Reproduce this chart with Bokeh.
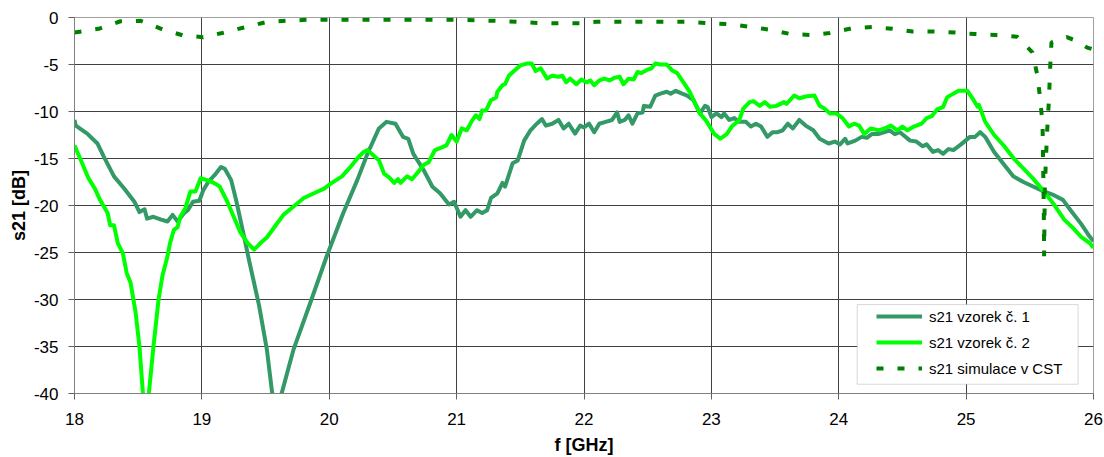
from bokeh.plotting import figure
from bokeh.models import Range1d, FixedTicker, Legend, LegendItem, BoxAnnotation
from bokeh.embed import file_html
from bokeh.resources import INLINE

# ---------------- data ----------------
f1 = [18.00, 18.01, 18.10, 18.18, 18.23, 18.31, 18.39, 18.47, 18.51, 18.55, 18.57, 18.62, 18.68, 18.73,
      18.77, 18.81, 18.86, 18.89, 18.93, 18.98, 19.01, 19.05, 19.11, 19.15, 19.18, 19.23, 19.27, 19.32,
      19.37, 19.45, 19.51, 19.555, 19.59, 19.62, 19.72, 19.85, 19.98, 20.11, 20.22, 20.30, 20.39, 20.45,
      20.52, 20.58, 20.62, 20.66, 20.74, 20.81, 20.87, 20.94, 20.98, 21.03, 21.07, 21.11, 21.16, 21.20,
      21.24, 21.27, 21.32, 21.36, 21.38, 21.44, 21.48, 21.53, 21.58, 21.63, 21.67, 21.70, 21.75, 21.80,
      21.84, 21.88, 21.93, 21.97, 22.00, 22.04, 22.08, 22.12, 22.17, 22.22, 22.26, 22.28, 22.32, 22.35,
      22.38, 22.42, 22.46, 22.47, 22.52, 22.56, 22.60, 22.65, 22.68, 22.72, 22.77, 22.81, 22.86, 22.91,
      22.95, 22.97, 23.00, 23.04, 23.08, 23.10, 23.14, 23.18, 23.22, 23.27, 23.31, 23.35, 23.39, 23.44,
      23.48, 23.52, 23.56, 23.60, 23.64, 23.69, 23.74, 23.80, 23.85, 23.92, 23.97, 24.01, 24.05, 24.07,
      24.13, 24.18, 24.22, 24.26, 24.31, 24.36, 24.40, 24.44, 24.48, 24.56, 24.61, 24.66, 24.69, 24.74,
      24.78, 24.82, 24.86, 24.90, 24.96, 25.03, 25.07, 25.11, 25.15, 25.22, 25.30, 25.37, 25.45, 25.53,
      25.61, 25.69, 25.76, 25.82, 25.90, 25.97, 26.00]
s1 = [-10.9, -11.5, -12.35, -13.4, -14.8, -16.9, -18.2, -19.6, -20.7, -20.4, -21.4, -21.2, -21.5, -21.7,
      -21.0, -21.7, -20.8, -20.5, -19.6, -19.5, -18.4, -17.5, -16.6, -15.9, -16.1, -17.3, -19.5, -22.6,
      -25.8, -30.7, -35.3, -40.3, -41.5, -40.3, -35.3, -30.4, -25.4, -20.8, -17.3, -14.5, -11.8, -11.1,
      -11.3, -12.7, -12.9, -14.5, -16.2, -18.0, -18.7, -19.9, -19.6, -21.2, -20.5, -21.2, -20.5, -20.8,
      -20.5, -19.2, -18.7, -17.6, -18.0, -15.5, -15.2, -13.1, -12.0, -11.3, -10.8, -11.5, -11.3, -10.9,
      -11.8, -11.3, -12.35, -11.5, -11.7, -11.3, -12.2, -11.3, -11.1, -10.9, -10.1, -11.1, -10.9, -10.4,
      -11.3, -10.2, -10.1, -9.4, -9.5, -8.3, -8.1, -7.9, -8.1, -7.8, -8.1, -8.3, -8.8, -10.2,
      -9.4, -9.5, -10.6, -10.2, -10.6, -10.2, -10.9, -10.7, -11.1, -11.1, -11.6, -11.3, -11.6, -12.7,
      -12.2, -12.2, -12.0, -11.3, -11.8, -10.9, -11.5, -12.0, -12.9, -13.4, -13.2, -13.5, -12.9, -13.4,
      -13.1, -12.7, -12.8, -12.4, -12.4, -12.2, -12.0, -12.4, -12.2, -13.1, -13.2, -13.7, -13.5, -14.3,
      -14.1, -14.5, -14.0, -14.1, -13.5, -12.7, -12.7, -12.2, -12.7, -14.3, -15.7, -16.9, -17.5, -18.0,
      -18.5, -18.9, -19.4, -20.5, -21.9, -23.3, -23.8]

f2 = [18.00, 18.06, 18.11, 18.16, 18.20, 18.26, 18.28, 18.31, 18.34, 18.38, 18.41, 18.44, 18.48, 18.51,
      18.54, 18.56, 18.58, 18.62, 18.66, 18.69, 18.73, 18.75, 18.78, 18.81, 18.83, 18.87, 18.91, 18.95,
      18.99, 19.04, 19.08, 19.12, 19.14, 19.20, 19.25, 19.30, 19.36, 19.41, 19.46, 19.51, 19.58, 19.64,
      19.72, 19.80, 19.88, 19.96, 20.02, 20.10, 20.16, 20.22, 20.27, 20.30, 20.35, 20.39, 20.43, 20.47,
      20.51, 20.54, 20.56, 20.61, 20.65, 20.70, 20.74, 20.78, 20.83, 20.87, 20.92, 20.96, 21.00, 21.04,
      21.08, 21.12, 21.15, 21.18, 21.20, 21.23, 21.27, 21.31, 21.32, 21.36, 21.38, 21.41, 21.45, 21.50,
      21.55, 21.59, 21.62, 21.66, 21.71, 21.75, 21.80, 21.83, 21.86, 21.89, 21.94, 21.98, 22.02, 22.05,
      22.08, 22.12, 22.16, 22.20, 22.24, 22.28, 22.31, 22.35, 22.39, 22.42, 22.45, 22.49, 22.53, 22.56,
      22.60, 22.65, 22.69, 22.73, 22.79, 22.83, 22.86, 22.91, 22.96, 23.02, 23.07, 23.12, 23.16, 23.22,
      23.25, 23.30, 23.33, 23.38, 23.42, 23.46, 23.51, 23.57, 23.59, 23.65, 23.69, 23.74, 23.81, 23.85,
      23.89, 23.93, 23.98, 24.03, 24.08, 24.12, 24.16, 24.20, 24.25, 24.31, 24.36, 24.41, 24.46, 24.50,
      24.54, 24.59, 24.65, 24.69, 24.73, 24.77, 24.82, 24.85, 24.90, 24.94, 25.01, 25.05, 25.09, 25.10,
      25.15, 25.22, 25.30, 25.38, 25.46, 25.53, 25.61, 25.69, 25.77, 25.84, 25.90, 25.97, 26.00]
s2 = [-13.6, -15.5, -17.1, -18.2, -19.4, -20.8, -22.1, -22.1, -24.0, -25.1, -27.2, -28.2, -31.4, -35.0,
      -40.5, -42.0, -40.5, -35.0, -30.0, -27.5, -25.4, -24.0, -22.6, -22.3, -21.2, -20.3, -18.5, -18.5,
      -17.1, -17.3, -17.5, -17.8, -18.0, -19.6, -21.2, -22.8, -24.0, -24.7, -24.0, -23.4, -22.1, -21.0,
      -20.1, -19.2, -18.7, -18.2, -17.6, -16.9, -16.0, -15.0, -14.3, -14.1, -14.7, -15.2, -16.6, -17.0,
      -17.6, -17.2, -17.6, -16.9, -17.2, -16.4, -15.7, -15.4, -14.1, -13.9, -13.6, -12.5, -13.2, -11.8,
      -12.0, -11.0, -10.4, -10.8, -9.9, -9.9, -8.8, -8.5, -7.9, -7.2, -7.1, -6.2, -5.7, -5.1,
      -4.9, -4.9, -5.7, -5.4, -6.5, -6.2, -6.3, -6.2, -6.9, -6.5, -7.1, -6.6, -6.9, -6.7,
      -7.2, -6.7, -6.5, -6.7, -6.4, -6.3, -7.1, -6.5, -6.6, -5.8, -5.9, -5.6, -5.4, -4.9,
      -5.0, -5.0, -5.6, -5.9, -7.1, -7.9, -8.8, -10.2, -11.0, -12.35, -12.9, -12.4, -11.6, -10.9,
      -9.7, -9.0, -8.9, -9.4, -9.0, -9.5, -9.4, -9.0, -9.2, -8.3, -8.6, -8.4, -8.3, -9.4,
      -9.7, -10.2, -10.2, -10.7, -11.6, -11.3, -11.5, -12.4, -11.8, -12.0, -11.8, -11.5, -12.0, -11.6,
      -12.0, -11.6, -11.3, -10.7, -10.5, -9.8, -9.5, -8.5, -8.1, -7.8, -7.8, -8.6, -9.5, -9.3,
      -11.1, -12.5, -13.7, -15.1, -16.2, -17.2, -18.5, -19.9, -21.5, -22.4, -23.3, -24.0, -24.5]

f3 = [18.00, 18.19, 18.36, 18.52, 18.68, 18.85, 19.01, 19.16, 19.33, 19.50, 19.66, 19.82, 20.00, 20.50,
      21.00, 21.15, 21.30, 21.48, 21.65, 21.80, 21.97, 22.10, 22.30, 22.63, 22.80, 22.97, 23.14, 23.31,
      23.46, 23.62, 23.78, 23.93, 24.10, 24.26, 24.42, 24.58, 24.75, 24.91, 25.07, 25.23, 25.40, 25.52,
      25.56, 25.58, 25.60, 25.605, 25.61, 25.612, 25.618, 25.635, 25.65, 25.66, 25.67, 25.79, 25.85,
      25.95, 26.00]
s3 = [-1.6, -1.2, -0.4, -0.35, -1.2, -1.9, -2.1, -1.65, -1.06, -0.5, -0.35, -0.25, -0.25, -0.25,
      -0.25, -0.3, -0.35, -0.45, -0.6, -0.6, -0.6, -0.45, -0.45, -0.45, -0.45, -0.6, -0.7, -1.0,
      -1.3, -1.76, -1.86, -1.65, -1.16, -1.0, -1.2, -1.5, -1.5, -1.6, -1.76, -1.86, -2.05, -3.7,
      -6.2, -8.5, -11.3, -15.9, -20.8, -25.4, -18.0, -12.35, -8.8, -5.3, -2.65, -2.1, -2.4,
      -3.2, -3.4]

labels = ["s21 vzorek č. 1", "s21 vzorek č. 2", "s21 simulace v CST"]
x_ticks = [18, 19, 20, 21, 22, 23, 24, 25, 26]
y_ticks = [0, -5, -10, -15, -20, -25, -30, -35, -40]

FONT = "Liberation Sans"

p = figure(width=1104, height=457, x_range=Range1d(18, 26), y_range=Range1d(-40, 0),
           output_backend="svg", toolbar_location=None,
           min_border_left=74, min_border_right=11, min_border_top=17, min_border_bottom=63)

p.background_fill_color = "white"
p.outline_line_color = "#a0a0a0"

p.xaxis.ticker = FixedTicker(ticks=x_ticks)
p.yaxis.ticker = FixedTicker(ticks=y_ticks)
p.xgrid.ticker = FixedTicker(ticks=x_ticks)
p.ygrid.ticker = FixedTicker(ticks=y_ticks)
p.grid.grid_line_color = "#404040"
p.grid.grid_line_width = 1

for ax in (p.xaxis[0], p.yaxis[0]):
    ax.axis_line_color = "#808080"
    ax.major_tick_line_color = "#606060"
    ax.minor_tick_line_color = None
    ax.major_tick_in = 0
    ax.major_tick_out = 6
    ax.major_label_text_font = FONT
    ax.major_label_text_font_size = "17px"
    ax.major_label_text_color = "black"
    ax.axis_label_text_font = FONT
    ax.axis_label_text_font_size = "18px"
    ax.axis_label_text_font_style = "bold"
    ax.axis_label_text_color = "black"

p.xaxis.major_label_overrides = {t: str(t) for t in x_ticks}
p.yaxis.major_label_overrides = {t: str(t) for t in y_ticks}
p.xaxis.axis_label = "f [GHz]"
p.yaxis.axis_label = "s21 [dB]"
p.xaxis.major_label_standoff = 13
p.xaxis.axis_label_standoff = 7
p.yaxis.major_label_standoff = 10
p.yaxis.axis_label_standoff = 2

r1 = p.line(f1, s1, line_color="#339966", line_width=4, line_join="round")
r2 = p.line(f2, s2, line_color="#00ff00", line_width=4, line_join="round")
r3 = p.line(f3, s3, line_color="#008000", line_width=4, line_dash="7 14")

# legend frame (screen-pixel layout converted to data units)
def px_to_x(px):
    return 18 + (px - 74) / 1019.4 * 8

def py_to_y(py):
    return -(py - 16.7) / 377.6 * 40

box = BoxAnnotation(left=px_to_x(857), right=px_to_x(1078), top=py_to_y(305), bottom=py_to_y(385),
                    fill_color="white", fill_alpha=1, line_color="#808080", line_width=1)
p.add_layout(box)

legend = Legend(items=[LegendItem(label=labels[0], renderers=[r1]),
                       LegendItem(label=labels[1], renderers=[r2]),
                       LegendItem(label=labels[2], renderers=[r3])],
                location=(802, 15), orientation="vertical")
legend.border_line_color = None
legend.background_fill_alpha = 0
legend.label_text_font = FONT
legend.label_text_font_size = "15px"
legend.label_text_color = "black"
legend.glyph_width = 46
legend.glyph_height = 20
legend.label_height = 20
legend.label_standoff = 7
legend.spacing = 6
legend.padding = 0
legend.margin = 0
p.add_layout(legend)

open("out.html", "w").write(file_html(p, INLINE))
